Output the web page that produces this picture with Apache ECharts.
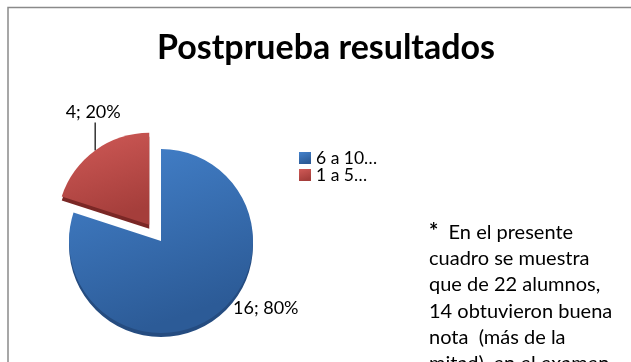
<!DOCTYPE html>
<html>
<head>
<meta charset="utf-8">
<script src="https://cdn.jsdelivr.net/npm/echarts@6/dist/echarts.min.js"></script>
<style>
  html, body { margin: 0; padding: 0; background: #ffffff; overflow: hidden; }
  #chart { width: 631px; height: 362px; }
</style>
</head>
<body>
<div id="chart"></div>
<script>
// Categories and counts of the post-test results
const categories = ['6 a 10…', '1 a 5…'];
const counts = [16, 4];
const titleText = 'Postprueba resultados';
const noteLines = [
  '{b|*}  En el presente',
  'cuadro se muestra',
  'que de 22 alumnos,',
  '14 obtuvieron buena',
  'nota  (más de la',
  'mitad), en el examen'
];

// Face and side (depth) colours for each slice
const faceColors = [
  ['#4482cc', '#2c5b97'],
  ['#d05a57', '#a53e3b']
];
const sideColors = ['#254c80', '#7a2725'];

const FONT = 'Lato, "Liberation Sans", sans-serif';

function grad(c) {
  return new echarts.graphic.LinearGradient(0, 0, 0.35, 1, [
    { offset: 0, color: c[0] },
    { offset: 1, color: c[1] }
  ]);
}

const pieCenter = [161, 241];
const pieRadius = 92;
const explode = 20;
const depth = 4;
const total = counts.reduce((a, b) => a + b, 0);

// Each slice gets its own pie layer so it can be pulled out along its bisector.
function sliceCenter(i, dy) {
  let before = 0;
  for (let k = 0; k < i; k++) before += counts[k];
  const mid = (before + counts[i] / 2) / total * Math.PI * 2;
  const off = i === 1 ? explode : 0;
  return [pieCenter[0] + off * Math.sin(mid), pieCenter[1] - off * Math.cos(mid) + dy];
}

function layerData(i, colorFn, named) {
  return categories.map((name, k) => k === i
    ? { name: named ? name : '', value: counts[k], itemStyle: { color: colorFn(k) } }
    : { name: '', value: counts[k], itemStyle: { color: 'rgba(0,0,0,0)' }, label: { show: false }, labelLine: { show: false } });
}

const labelBase = {
  show: true,
  position: 'outside',
  formatter: p => p.value + '; ' + p.percent + '%',
  fontFamily: FONT,
  fontSize: 18,
  color: '#000000'
};

const series = [];
// slice thickness, drawn slightly lower beneath the faces
categories.forEach((_, i) => {
  series.push({
    type: 'pie',
    silent: true,
    z: 1,
    center: sliceCenter(i, depth),
    radius: pieRadius,
    startAngle: 90,
    clockwise: true,
    label: { show: false },
    labelLine: { show: false },
    emphasis: { disabled: true },
    data: layerData(i, k => sideColors[k], false)
  });
});

// slice faces
series.push({
  type: 'pie',
  z: 2,
  center: sliceCenter(0, 0),
  radius: pieRadius,
  startAngle: 90,
  clockwise: true,
  emphasis: { disabled: true },
  label: labelBase,
  labelLine: { show: false },
  labelLayout: function (p) {
    if (p.dataIndex !== 0) return {};
    return {
      x: p.rect.x + p.rect.width - 20,
      y: p.rect.y + p.rect.height - 25,
      align: 'left',
      verticalAlign: 'middle'
    };
  },
  data: layerData(0, k => grad(faceColors[k]), true)
});

series.push({
  type: 'pie',
  z: 2,
  center: sliceCenter(1, 0),
  radius: pieRadius,
  startAngle: 90,
  clockwise: true,
  emphasis: { disabled: true },
  label: labelBase,
  labelLine: {
    show: true,
    length: 10,
    length2: 0,
    lineStyle: { color: '#000000', width: 1.2 }
  },
  labelLayout: function (p) {
    if (p.dataIndex !== 1 || !p.labelLinePoints) return {};
    const a = p.labelLinePoints[0];
    const top = a[1] - 28;
    return {
      x: a[0] - 2,
      y: top - 1,
      align: 'center',
      verticalAlign: 'bottom',
      labelLinePoints: [a, [a[0], top], [a[0], top]]
    };
  },
  data: layerData(1, k => grad(faceColors[k]), true)
});

const chart = echarts.init(document.getElementById('chart'), null, { renderer: 'canvas' });

chart.setOption({
  backgroundColor: '#ffffff',
  animation: false,
  title: {
    text: titleText,
    left: 321,
    textAlign: 'center',
    top: 26,
    textStyle: { fontFamily: FONT, fontWeight: 'bold', fontSize: 34, color: '#000000' }
  },
  legend: {
    orient: 'vertical',
    left: 294,
    top: 144,
    icon: 'rect',
    itemWidth: 12,
    itemHeight: 12,
    itemGap: -1,
    data: categories,
    selectedMode: false,
    textStyle: { fontFamily: FONT, fontSize: 17.5, color: '#000000', lineHeight: 17 }
  },
  graphic: [
    {
      type: 'rect',
      silent: true,
      shape: { x: 8, y: 7.5, width: 700, height: 500 },
      style: { fill: 'none', stroke: '#8a8a8a', lineWidth: 1.5 },
      z: 0
    },
    {
      type: 'text',
      silent: true,
      left: 429,
      top: 219,
      style: {
        text: noteLines.join('\n'),
        fontFamily: FONT,
        fontSize: 20,
        lineHeight: 26.3,
        fill: '#000000',
        rich: {
          b: { fontFamily: FONT, fontSize: 22, fontWeight: 'bold', lineHeight: 26.3, fill: '#000000' }
        }
      }
    }
  ],
  series: series
});
</script>
</body>
</html>
